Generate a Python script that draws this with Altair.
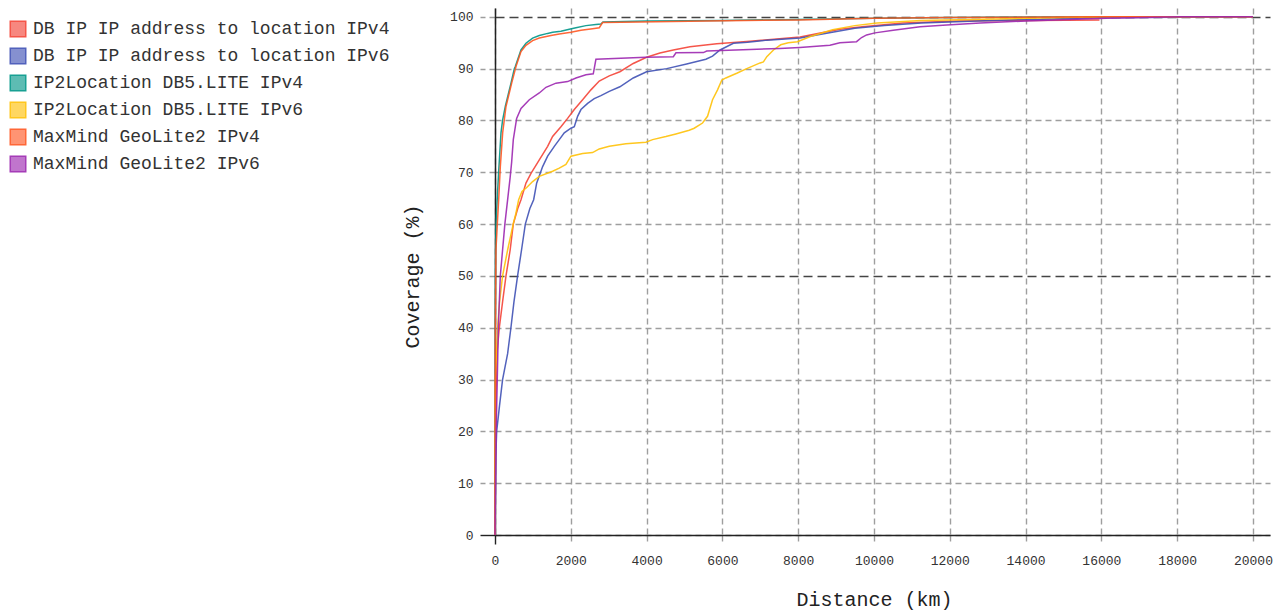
import altair as alt
import pandas as pd

series_names = [
    "DB IP IP address to location IPv4",
    "DB IP IP address to location IPv6",
    "IP2Location DB5.LITE IPv4",
    "IP2Location DB5.LITE IPv6",
    "MaxMind GeoLite2 IPv4",
    "MaxMind GeoLite2 IPv6",
]
line_colors = ["#f44336", "#3f51b5", "#009688", "#ffc107", "#ff5722", "#9c27b0"]
legend_fills = ["#f44336b3", "#3f51b5b3", "#009688b3", "#ffc107b3", "#ff5722b3", "#9c27b0b3"]

x_ticks = [0, 2000, 4000, 6000, 8000, 10000, 12000, 14000, 16000, 18000, 20000]
y_ticks = [0, 10, 20, 30, 40, 50, 60, 70, 80, 90, 100]

dbip_v4_km = [0, 20, 50, 114, 200, 290, 400, 482, 600, 686, 817, 950, 1169, 1389, 1520, 1740,
              1916, 2092, 2312, 2531, 2751, 3015, 3295, 3648, 4000, 4352, 4705, 5145, 5850,
              6730, 8050, 8518, 9104, 9690, 10763, 12227, 14180, 15950]
dbip_v4_cov = [0, 25, 35, 40, 45, 50, 55, 60, 63, 64.7, 67.9, 69.8, 72.4, 75, 76.9, 78.8,
               80.4, 82.1, 84, 85.9, 87.6, 88.6, 89.4, 91, 92.2, 93, 93.6, 94.2, 94.8,
               95.3, 96.1, 96.8, 97.6, 98.1, 98.8, 99.2, 99.3, 99.4]

dbip_v6_km = [0, 20, 44, 120, 200, 333, 420, 500, 596, 700, 800, 920, 1020, 1099, 1257, 1389,
              1565, 1696, 1828, 2004, 2092, 2180, 2268, 2444, 2619, 2795, 3015, 3295, 3648,
              4000, 4530, 5057, 5564, 5740, 5938, 6290, 6664, 7172, 8053, 8713, 9494, 10275,
              11250, 12715, 14180, 16000, 20000]
dbip_v6_cov = [0, 15, 20, 25, 30, 35, 40, 45, 50, 55, 60, 63, 64.7, 67.9, 71.1, 73.1,
               75, 76.3, 77.6, 78.5, 78.8, 80.8, 82.1, 83.3, 84.2, 84.8, 85.6, 86.5, 88.2,
               89.4, 90, 90.9, 91.8, 92.4, 93.6, 94.9, 95.1, 95.5, 95.9, 96.8, 97.8, 98.3,
               98.8, 99.2, 99.5, 99.8, 100]

ip2l_v4_km = [0, 5, 15, 26, 60, 96, 158, 200, 272, 422, 510, 536, 686, 817, 993, 1169, 1389,
              1520, 1740, 1960, 2136, 2400, 2663, 2795, 2850, 4000, 6000, 8000, 10000, 12000,
              14000, 20000]
ip2l_v4_cov = [0, 40, 55, 60, 65, 70, 77.6, 80, 82.7, 87.2, 90, 90.4, 93.6, 94.9, 95.9, 96.4,
               96.8, 97, 97.2, 97.6, 97.9, 98.3, 98.5, 98.6, 99, 99.2, 99.3, 99.5, 99.7,
               99.85, 99.95, 100]

ip2l_v6_km = [0, 10, 70, 120, 200, 333, 480, 550, 624, 712, 830, 993, 1169, 1520, 1696, 1872,
              2004, 2312, 2575, 2751, 3015, 3454, 3982, 4158, 4509, 4773, 5125, 5256, 5476,
              5608, 5740, 5872, 5986, 6091, 6379, 6643, 6995, 7083, 7172, 7348, 7540, 7737,
              7980, 8322, 8908, 9494, 10080, 11250, 13200, 16000, 20000]
ip2l_v6_cov = [0, 30, 40, 45, 50, 55, 60, 62, 64.7, 66.3, 67, 68.2, 69.2, 70.2, 70.8, 71.5,
               73.1, 73.6, 73.8, 74.5, 75, 75.5, 75.8, 76.3, 76.9, 77.4, 78.1, 78.5, 79.5,
               80.8, 84, 85.9, 87.8, 88.2, 89.1, 90, 91.1, 91.3, 92.3, 93.6, 94.6, 95,
               95.2, 96.2, 97.5, 98.3, 98.8, 99.3, 99.6, 100, 100]

mm_v4_km = [0, 8, 25, 61, 97, 140, 202, 290, 440, 554, 686, 817, 993, 1169, 1477, 1696, 2004,
            2268, 2575, 2751, 2839, 3806, 5564, 8000, 10000, 12000, 16000, 20000]
mm_v4_cov = [0, 40, 55, 60, 64.7, 71, 77.6, 82.7, 87.2, 90.4, 93.3, 94.5, 95.4, 95.9, 96.4,
             96.7, 97, 97.4, 97.7, 97.9, 98.9, 99, 99.2, 99.4, 99.7, 99.85, 100, 100]

mm_v6_km = [0, 30, 60, 88, 140, 260, 400, 440, 483, 571, 686, 905, 1169, 1345, 1609, 1916,
            2136, 2400, 2593, 2663, 3982, 4705, 4775, 5500, 5586, 6730, 7515, 8044, 8837,
            9100, 9540, 9673, 9806, 10026, 10510, 11216, 11920, 12800, 14000, 16130, 18080,
            20000]
mm_v6_cov = [0, 20, 30, 40, 50, 60, 69, 72, 76.3, 80.4, 82.3, 84, 85.3, 86.4, 87.2, 87.5,
             88.2, 88.8, 89, 91.8, 92.2, 92.3, 93.05, 93.1, 93.4, 93.7, 93.9, 94.1, 94.5,
             95, 95.2, 96, 96.5, 96.9, 97.4, 98.1, 98.4, 98.8, 99.2, 99.7, 100, 100]

all_km = [dbip_v4_km, dbip_v6_km, ip2l_v4_km, ip2l_v6_km, mm_v4_km, mm_v6_km]
all_cov = [dbip_v4_cov, dbip_v6_cov, ip2l_v4_cov, ip2l_v6_cov, mm_v4_cov, mm_v6_cov]

rows = []
for name, kms, covs in zip(series_names, all_km, all_cov):
    for i, (k, c) in enumerate(zip(kms, covs)):
        rows.append({"series": name, "distance": k, "coverage": c, "idx": i})
df = pd.DataFrame(rows)

fill_expr = " : ".join(
    f"datum.value === '{n}' ? '{f}'" for n, f in zip(series_names, legend_fills)
) + " : 'transparent'"

FONT = "Liberation Mono"
GRID = "#9e9e9e"

x_axis = alt.Axis(
    values=x_ticks,
    format="d",
    title="Distance (km)",
    titleX=379,
    titleY=64,
    titleBaseline="middle",
    titleAlign="center",
    grid=True,
    gridColor=GRID,
    gridDash=[6, 4],
    gridWidth=1.4,
    tickSize=9,
    tickWidth=1.4,
    tickColor={"condition": {"test": "datum.value === 0", "value": "#222222"}, "value": GRID},
    tickDash={"condition": {"test": "datum.value === 0", "value": []}, "value": [6, 4]},
    domainColor="#222222",
    domainWidth=1.5,
    labelPadding=10,
    labelFlush=False,
)
y_axis = alt.Axis(
    values=y_ticks,
    format="d",
    title="Coverage (%)",
    titleX=-83,
    titleY=268,
    titleAngle=270,
    titleBaseline="middle",
    titleAlign="center",
    grid=True,
    gridColor={"condition": {"test": "datum.value === 100 || datum.value === 50", "value": "#444444"}, "value": GRID},
    gridDash={"condition": {"test": "datum.value === 100 || datum.value === 50", "value": [9, 5]}, "value": [6, 4]},
    gridWidth=1.4,
    tickSize=15,
    tickWidth=1.4,
    tickColor={"condition": {"test": "datum.value === 0", "value": "#222222"}, "value": GRID},
    tickDash={"condition": {"test": "datum.value === 0", "value": []}, "value": [6, 4]},
    domainColor="#222222",
    domainWidth=1.5,
    labelPadding=7,
)

chart = alt.Chart(df).mark_line(strokeWidth=1.5, opacity=0.9).encode(
    x=alt.X("distance:Q", scale=alt.Scale(domain=[0, 20450], nice=False, zero=False), axis=x_axis),
    y=alt.Y("coverage:Q", scale=alt.Scale(domain=[0, 101.7], nice=False), axis=y_axis),
    color=alt.Color(
        "series:N",
        scale=alt.Scale(domain=series_names, range=line_colors),
        legend=alt.Legend(
            title=None,
            orient="none",
            legendX=-486,
            legendY=12,
            symbolType="square",
            symbolSize=240,
            symbolStrokeWidth=1.5,
            symbolFillColor={"expr": fill_expr},
            labelFont=FONT,
            labelFontSize=18,
            labelColor="#333333",
            labelOffset=6,
            labelLimit=600,
            rowPadding=5,
        ),
    ),
    order="idx:Q",
).properties(
    width=775,
    height=527,
    autosize=alt.AutoSizeParams(type="none"),
    padding={"left": 487, "top": 0, "right": 4, "bottom": 76},
).configure_view(
    stroke=None
).configure_axis(
    labelFont=FONT,
    labelFontSize=13,
    labelColor="#333333",
    titleFont=FONT,
    titleFontSize=20,
    titleFontWeight="normal",
    titleColor="#222222",
)

chart.save("out.html", embed_options={"renderer": "svg", "actions": False})
